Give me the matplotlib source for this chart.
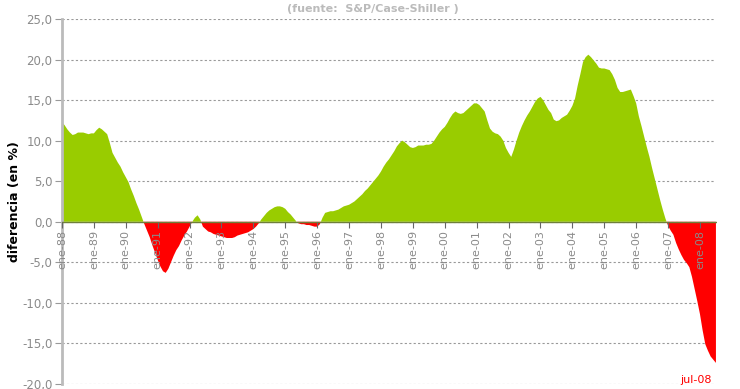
import numpy as np
import pandas as pd
import matplotlib
matplotlib.use("Agg")
import matplotlib.pyplot as plt

# variacion interanual S&P/Case-Shiller (ene-88 .. jul-08)
y1988 = [12.3, 11.9, 11.4, 11.0, 10.7, 10.8, 11.0, 11.0, 11.0, 10.9, 10.8, 10.9]
y1989 = [10.9, 11.3, 11.6, 11.4, 11.1, 10.8, 9.7, 8.5, 7.9, 7.3, 6.8, 6.1]
y1990 = [5.5, 4.9, 4.0, 3.2, 2.3, 1.5, 0.6, -0.3, -1.1, -1.9, -2.9, -3.8]
y1991 = [-4.7, -5.5, -6.1, -6.3, -5.8, -5.0, -4.2, -3.5, -3.0, -2.3, -1.7, -1.2]
y1992 = [-0.6, 0.0, 0.5, 0.8, 0.3, -0.6, -0.9, -1.2, -1.3, -1.5, -1.6, -1.7]
y1993 = [-1.8, -1.9, -2.0, -2.0, -2.0, -1.9, -1.7, -1.6, -1.5, -1.4, -1.3, -1.1]
y1994 = [-0.9, -0.6, -0.2, 0.3, 0.7, 1.1, 1.4, 1.6, 1.8, 1.9, 1.9, 1.8]
y1995 = [1.6, 1.2, 0.9, 0.5, 0.1, -0.2, -0.3, -0.3, -0.4, -0.4, -0.5, -0.6]
y1996 = [-0.6, -0.3, 0.5, 1.1, 1.2, 1.3, 1.3, 1.4, 1.5, 1.7, 1.9, 2.0]
y1997 = [2.1, 2.3, 2.5, 2.8, 3.1, 3.4, 3.8, 4.1, 4.5, 4.9, 5.3, 5.7]
y1998 = [6.2, 6.8, 7.3, 7.7, 8.2, 8.7, 9.3, 9.7, 10.0, 9.8, 9.5, 9.2]
y1999 = [9.1, 9.2, 9.4, 9.4, 9.4, 9.5, 9.5, 9.6, 10.0, 10.5, 11.0, 11.4]
y2000 = [11.7, 12.2, 12.8, 13.3, 13.6, 13.4, 13.3, 13.4, 13.7, 14.0, 14.3, 14.6]
y2001 = [14.6, 14.4, 14.0, 13.6, 12.5, 11.5, 11.1, 10.9, 10.8, 10.5, 10.0, 9.1]
y2002 = [8.5, 8.0, 8.9, 10.0, 11.0, 11.8, 12.5, 13.1, 13.6, 14.2, 14.8, 15.2]
y2003 = [15.4, 15.0, 14.4, 13.8, 13.4, 12.6, 12.4, 12.5, 12.8, 13.0, 13.2, 13.7]
y2004 = [14.3, 15.2, 16.8, 18.2, 19.7, 20.3, 20.6, 20.3, 19.9, 19.5, 19.0, 18.9]
y2005 = [18.9, 18.8, 18.7, 18.2, 17.5, 16.5, 16.0, 16.0, 16.1, 16.2, 16.3, 15.5]
y2006 = [14.6, 13.0, 11.8, 10.5, 9.2, 8.0, 6.6, 5.3, 4.0, 2.7, 1.5, 0.4]
y2007 = [-0.5, -1.1, -1.6, -2.6, -3.4, -4.1, -4.7, -5.1, -5.6, -6.8, -8.3, -9.8]
y2008 = [-11.4, -13.4, -15.1, -15.9, -16.6, -17.0, -17.4]

valores = np.array(y1988 + y1989 + y1990 + y1991 + y1992 + y1993 + y1994 +
                   y1995 + y1996 + y1997 + y1998 + y1999 + y2000 + y2001 +
                   y2002 + y2003 + y2004 + y2005 + y2006 + y2007 + y2008)
fechas = pd.date_range("1988-01-01", periods=len(valores), freq="MS")
x = np.arange(len(valores))

etiquetas = ["ene-%02d" % (a % 100) for a in range(1988, 2009)]
yticks = [25, 20, 15, 10, 5, 0, -5, -10, -15, -20]

verde = "#99CC00"
rojo = "#FF0000"
gris = "#8a8a8a"

fig = plt.figure(figsize=(7.4, 3.89), dpi=100)
ax = fig.add_axes([62 / 740, 1 - 384 / 389, (717 - 62) / 740, (384 - 19) / 389])

ax.fill_between(x, valores, 0, where=valores >= 0, interpolate=True,
                color=verde, linewidth=0, zorder=2)
ax.fill_between(x, valores, 0, where=valores <= 0, interpolate=True,
                color=rojo, linewidth=0, zorder=2)
ax.axhline(0, color="#6f7f3a", linewidth=1, zorder=3)

ax.set_xlim(0, len(valores) - 0.6)
ax.set_ylim(-20, 25)

# rejilla punteada
for v in yticks:
    ax.plot([0, len(valores) - 1.5], [v, v], color="#999999", linestyle=(0, (2, 2)),
            linewidth=0.8, zorder=1)

ax.set_yticks(yticks)
ax.set_yticklabels([("%.1f" % v).replace(".", ",") for v in yticks],
                   color=gris, fontsize=8.5)
ax.tick_params(axis="y", length=5, color="#999999", pad=2)

ax.spines["bottom"].set_position(("data", 0))
ax.spines["bottom"].set_visible(False)
ax.spines["top"].set_visible(False)
ax.spines["right"].set_visible(False)
ax.spines["left"].set_color("#bbbbbb")
ax.spines["left"].set_linewidth(2)

ax.set_xticks(x[::12])
ax.set_xticklabels(etiquetas, rotation=90, color=gris, fontsize=8, va="top", ha="center")
ax.tick_params(axis="x", length=4, color="#666666", pad=2)
ax.xaxis.set_zorder(5)

ax.set_ylabel("diferencia (en %)", fontsize=9, fontweight="bold", color="black",
              labelpad=1)

ax.annotate(fechas[-1].strftime("jul-%y"), xy=(x[-1], -20), xytext=(-14, 3),
            textcoords="offset points", ha="center", va="center",
            color=rojo, fontsize=8)

fig.text(0.504, 0.978, "(fuente:  S&P/Case-Shiller )", ha="center", va="center",
         color="#bbbbbb", fontsize=8, fontweight="bold")

fig.savefig("out.png", dpi=100)
